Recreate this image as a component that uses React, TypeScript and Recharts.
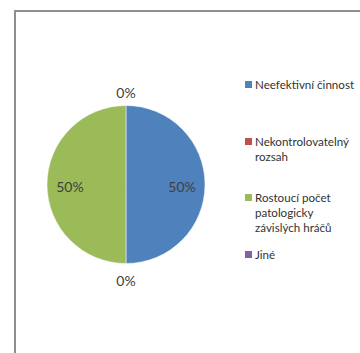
import React from "react";
import { PieChart, Pie, Cell } from "recharts";

const categories = [
  "Neefektivní činnost",
  "Nekontrolovatelný rozsah",
  "Rostoucí počet patologicky závislých hráčů",
  "Jiné",
];
const values = [50, 0, 50, 0];
const legendLines = [
  ["Neefektivní činnost"],
  ["Nekontrolovatelný", "rozsah"],
  ["Rostoucí počet", "patologicky", "závislých hráčů"],
  ["Jiné"],
];
const colors = ["#4F81BD", "#C0504D", "#9BBB59", "#8064A2"];

const data = categories.map((name, i) => ({ name, value: values[i] }));

const RAD = Math.PI / 180;
const FONT = "Lato, 'Open Sans', sans-serif";

const renderLabel = (props: any) => {
  const { cx, cy, midAngle, outerRadius, percent } = props;
  const r = percent > 0 ? outerRadius * 0.71 : outerRadius + 15;
  const x = cx + r * Math.cos(-midAngle * RAD);
  const y = cy + r * Math.sin(-midAngle * RAD) + 1.5;
  return (
    <text
      x={x}
      y={y}
      textAnchor="middle"
      dominantBaseline="central"
      fill="#404040"
      fontSize={14}
      fontFamily={FONT}
    >
      {`${Math.round(percent * 100)}%`}
    </text>
  );
};

const legendTops = [77, 134, 190, 247];

const LegendBlock = () => (
  <div style={{ position: "absolute", left: 245, top: 0, width: 116, height: 300, fontFamily: FONT }}>
    {legendLines.map((lines, i) => (
      <div key={i} style={{ position: "absolute", left: 0, top: legendTops[i] }}>
        <div
          style={{
            position: "absolute",
            left: 0,
            top: 4,
            width: 7,
            height: 7,
            background: colors[i],
          }}
        />
        <div style={{ position: "absolute", left: 10, top: 0, fontSize: 11.6, lineHeight: "15px", color: "#333", whiteSpace: "nowrap" }}>
          {lines.map((l, j) => (
            <div key={j}>{l}</div>
          ))}
        </div>
      </div>
    ))}
  </div>
);

export default function App() {
  return (
    <div style={{ position: "absolute", left: 0, top: 0, width: 360, height: 353, overflow: "hidden", background: "#fff" }}>
      <div
        style={{
          position: "absolute",
          left: 14,
          top: 10,
          width: 400,
          height: 400,
          borderLeft: "2px solid #8f8f8f",
          borderTop: "2px solid #8f8f8f",
        }}
      />
      <div style={{ position: "absolute", left: 0, top: 0 }}>
        <PieChart width={360} height={353} margin={{ top: 0, right: 0, bottom: 0, left: 0 }}>
          <Pie
            data={data}
            dataKey="value"
            nameKey="name"
            cx={126}
            cy={184.5}
            outerRadius={79}
            startAngle={90}
            endAngle={-270}
            label={renderLabel}
            labelLine={false}
            stroke="#ffffff"
            strokeWidth={0.5}
            isAnimationActive={false}
          >
            {data.map((d, i) => (
              <Cell key={d.name} fill={colors[i]} />
            ))}
          </Pie>
        </PieChart>
      </div>
      <LegendBlock />
    </div>
  );
}
